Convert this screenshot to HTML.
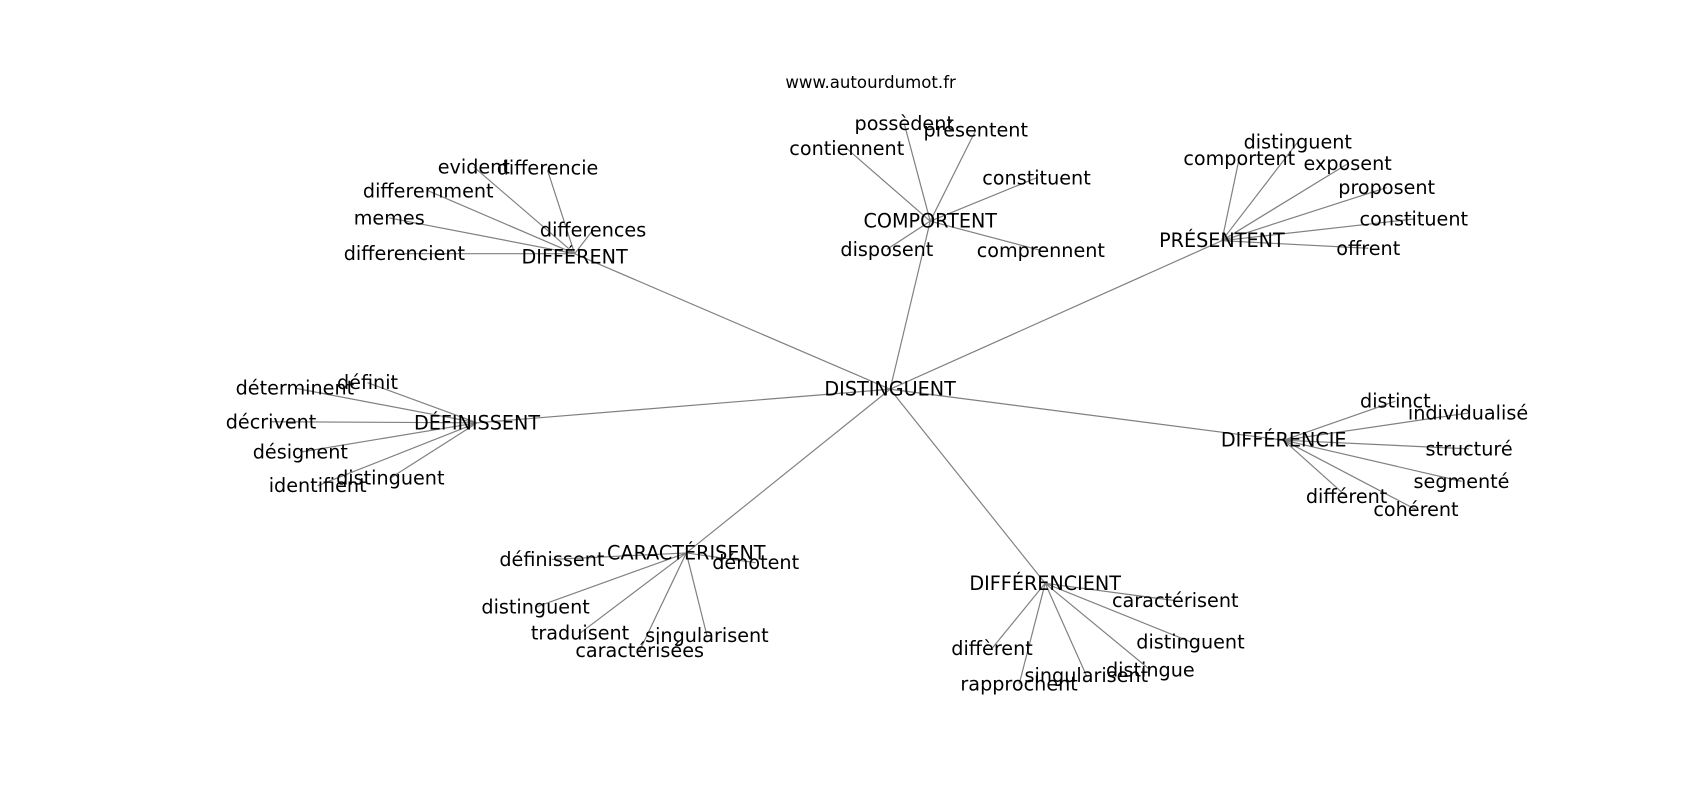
<!DOCTYPE html>
<html><head><meta charset="utf-8"><style>
html,body{margin:0;padding:0;background:#fff;}
svg{display:block;}
text{font-family:"DejaVu Sans","Liberation Sans",sans-serif;font-size:17.7px;fill:#000;text-anchor:middle;dominant-baseline:central;}
line{stroke:#808080;stroke-width:1.1;}
</style></head><body>
<svg width="1700" height="800" viewBox="0 0 1700 800" xmlns="http://www.w3.org/2000/svg">
<g transform="scale(1.0842)">
<g>
<line x1="821" y1="359" x2="530" y2="234"/>
<line x1="821" y1="359" x2="858" y2="204"/>
<line x1="821" y1="359" x2="1127" y2="222"/>
<line x1="821" y1="359" x2="440" y2="390"/>
<line x1="821" y1="359" x2="1184" y2="406"/>
<line x1="821" y1="359" x2="633" y2="510"/>
<line x1="821" y1="359" x2="964" y2="538"/>

<line x1="530" y1="234" x2="437" y2="154"/>
<line x1="530" y1="234" x2="505" y2="157"/>
<line x1="530" y1="234" x2="395" y2="176"/>
<line x1="530" y1="234" x2="359" y2="201"/>
<line x1="530" y1="234" x2="373" y2="234"/>
<line x1="530" y1="234" x2="547" y2="212"/>

<line x1="858" y1="204" x2="834" y2="114"/>
<line x1="858" y1="204" x2="900" y2="120"/>
<line x1="858" y1="204" x2="781" y2="137"/>
<line x1="858" y1="204" x2="956" y2="164"/>
<line x1="858" y1="204" x2="818" y2="230"/>
<line x1="858" y1="204" x2="960" y2="231"/>

<line x1="1127" y1="222" x2="1197" y2="131"/>
<line x1="1127" y1="222" x2="1143" y2="146"/>
<line x1="1127" y1="222" x2="1243" y2="151"/>
<line x1="1127" y1="222" x2="1279" y2="173"/>
<line x1="1127" y1="222" x2="1304" y2="202"/>
<line x1="1127" y1="222" x2="1262" y2="229"/>

<line x1="440" y1="390" x2="272" y2="358"/>
<line x1="440" y1="390" x2="339" y2="353"/>
<line x1="440" y1="390" x2="250" y2="389"/>
<line x1="440" y1="390" x2="277" y2="417"/>
<line x1="440" y1="390" x2="293" y2="448"/>
<line x1="440" y1="390" x2="360" y2="441"/>

<line x1="1184" y1="406" x2="1287" y2="370"/>
<line x1="1184" y1="406" x2="1354" y2="381"/>
<line x1="1184" y1="406" x2="1355" y2="414"/>
<line x1="1184" y1="406" x2="1348" y2="444"/>
<line x1="1184" y1="406" x2="1242" y2="458"/>
<line x1="1184" y1="406" x2="1306" y2="470"/>

<line x1="633" y1="510" x2="509" y2="516"/>
<line x1="633" y1="510" x2="697" y2="519"/>
<line x1="633" y1="510" x2="494" y2="560"/>
<line x1="633" y1="510" x2="535" y2="584"/>
<line x1="633" y1="510" x2="652" y2="586"/>
<line x1="633" y1="510" x2="590" y2="600"/>

<line x1="964" y1="538" x2="1084" y2="554"/>
<line x1="964" y1="538" x2="1098" y2="592"/>
<line x1="964" y1="538" x2="915" y2="598"/>
<line x1="964" y1="538" x2="1061" y2="618"/>
<line x1="964" y1="538" x2="1002" y2="623"/>
<line x1="964" y1="538" x2="940" y2="631"/>
</g>
<g>
<text x="803" y="76" style="font-size:15.3px">www.autourdumot.fr</text>
<text x="821" y="359">DISTINGUENT</text>
<text x="530" y="237">DIFFÉRENT</text>
<text x="858" y="204">COMPORTENT</text>
<text x="1127" y="222">PRÉSENTENT</text>
<text x="440" y="390">DÉFINISSENT</text>
<text x="1184" y="406">DIFFÉRENCIE</text>
<text x="633" y="510">CARACTÉRISENT</text>
<text x="964" y="538">DIFFÉRENCIENT</text>

<text x="437" y="154">evident</text>
<text x="505" y="155">differencie</text>
<text x="395" y="176">differemment</text>
<text x="359" y="201">memes</text>
<text x="373" y="234">differencient</text>
<text x="547" y="212">differences</text>

<text x="834" y="114">possèdent</text>
<text x="900" y="120">présentent</text>
<text x="781" y="137">contiennent</text>
<text x="956" y="164">constituent</text>
<text x="818" y="230">disposent</text>
<text x="960" y="231">comprennent</text>

<text x="1197" y="131">distinguent</text>
<text x="1143" y="146">comportent</text>
<text x="1243" y="151">exposent</text>
<text x="1279" y="173">proposent</text>
<text x="1304" y="202">constituent</text>
<text x="1262" y="229">offrent</text>

<text x="272" y="358">déterminent</text>
<text x="339" y="353">définit</text>
<text x="250" y="389">décrivent</text>
<text x="277" y="417">désignent</text>
<text x="293" y="448">identifient</text>
<text x="360" y="441">distinguent</text>

<text x="1287" y="370">distinct</text>
<text x="1354" y="381">individualisé</text>
<text x="1355" y="414">structuré</text>
<text x="1348" y="444">segmenté</text>
<text x="1242" y="458">différent</text>
<text x="1306" y="470">cohérent</text>

<text x="509" y="516">définissent</text>
<text x="697" y="519">dénotent</text>
<text x="494" y="560">distinguent</text>
<text x="535" y="584">traduisent</text>
<text x="652" y="586">singularisent</text>
<text x="590" y="600">caractérisées</text>

<text x="1084" y="554">caractérisent</text>
<text x="1098" y="592">distinguent</text>
<text x="915" y="598">diffèrent</text>
<text x="1061" y="618">distingue</text>
<text x="1002" y="623">singularisent</text>
<text x="940" y="631">rapprochent</text>
</g>
</g>
</svg>
</body></html>
